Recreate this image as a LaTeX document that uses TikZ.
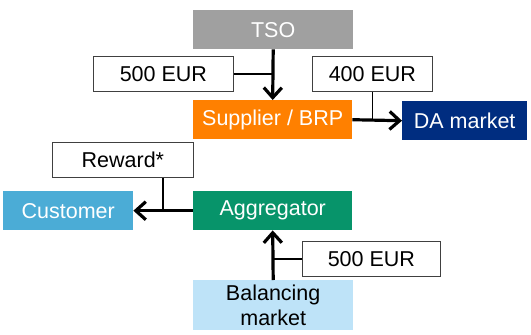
\documentclass[tikz,border=0pt]{standalone}
\usepackage{fontspec}
\setmainfont{Liberation Sans}
\usetikzlibrary{arrows.meta}
\definecolor{tsogray}{HTML}{A0A0A0}
\definecolor{suporange}{HTML}{FF8000}
\definecolor{danavy}{HTML}{002D80}
\definecolor{custblue}{HTML}{4BACD6}
\definecolor{agggreen}{HTML}{07946A}
\definecolor{ballight}{HTML}{BEE3F8}
\definecolor{boxborder}{HTML}{404040}
\begin{document}
\begin{tikzpicture}[x=1pt,y=-1pt,
  every node/.style={font=\fontsize{21.5}{23}\selectfont, inner sep=0pt, anchor=north west, align=center},
  actor/.style={minimum height=39pt},
  amount/.style={draw=boxborder, line width=0.8pt, fill=white, minimum height=35pt},
  flow/.style={line width=3.2pt, -{Straight Barb[length=10pt,width=18pt,line width=3.2pt]}},
  tie/.style={line width=1.2pt}]
\useasboundingbox (0,0) rectangle (531,335);
% actors
\node[actor, fill=tsogray, text=white, minimum width=160pt] (tso) at (193,10) {TSO};
\node[actor, fill=suporange, text=white, minimum width=159pt] (sup) at (193,100) {Supplier / BRP};
\node[actor, fill=danavy, text=white, minimum width=125pt] (da) at (402,101) {DA market};
\node[actor, fill=custblue, text=white, minimum width=130pt] (cust) at (3,191) {Customer};
\node[actor, fill=agggreen, text=white, minimum width=159pt] (agg) at (193,191) {Aggregator};
\node[fill=ballight, text=black, minimum width=160pt, minimum height=50pt, font=\fontsize{21.5}{25}\selectfont] (bal) at (193,280) {Balancing\\market};
% amounts
\node[amount, minimum width=140pt] (p1) at (93,56) {500 EUR};
\node[amount, minimum width=120pt] (p2) at (312,56) {400 EUR};
\node[amount, minimum width=141pt] (rew) at (52,142) {Reward*};
\node[amount, minimum width=138pt] (p3) at (302,241) {500 EUR};
% flows
\draw[flow] (tso.south) -- (sup.north);
\draw[flow] (sup.east) -- (da.west);
\draw[flow] (agg.west) -- (cust.east);
\draw[flow] (bal.north) -- (agg.south);
% ties
\draw[tie] (p1.east) -- (p1.east -| tso.south);
\draw[tie] (p2.south) -- (p2.south |- sup.east);
\coordinate (rw) at ([xshift=40pt]rew.south);
\draw[tie] (rw) -- (rw |- agg.west);
\draw[tie] (p3.west) -- (p3.west -| bal.north);
\end{tikzpicture}
\end{document}
